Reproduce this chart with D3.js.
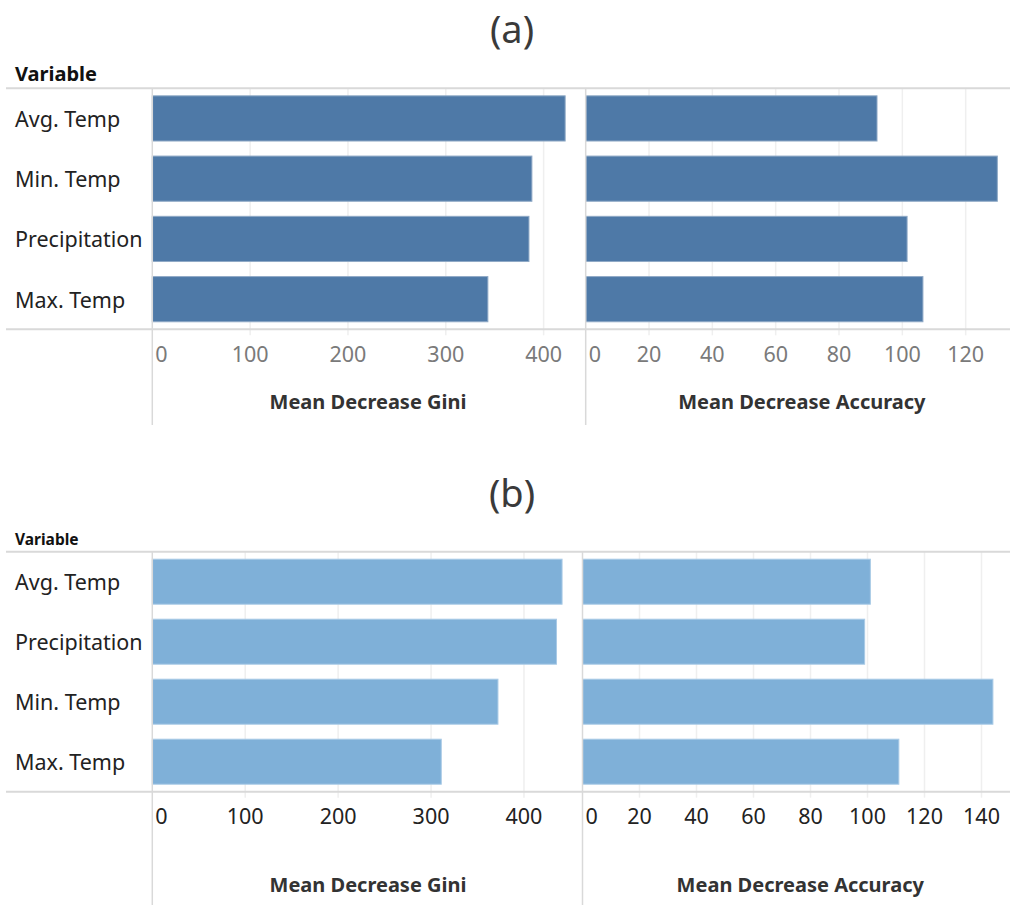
<!DOCTYPE html>
<html>
<head>
<meta charset="utf-8">
<script src="https://cdn.jsdelivr.net/npm/d3@7"></script>
<style>
  html, body { margin: 0; padding: 0; background: #fff; }
  svg { display: block; font-family: "Noto Sans", "Open Sans", sans-serif; }
</style>
</head>
<body>
<svg id="chart" width="1010" height="907"></svg>
<script>
// Variable importance from two random forest models
const categoriesA = ["Avg. Temp", "Min. Temp", "Precipitation", "Max. Temp"];
const giniA = [422, 388, 385, 343];
const accuracyA = [92, 130, 101.5, 106.5];

const categoriesB = ["Avg. Temp", "Precipitation", "Min. Temp", "Max. Temp"];
const giniB = [441, 435, 372, 311];
const accuracyB = [101, 99, 144, 111];

const giniTicksA = [0, 100, 200, 300, 400];
const accTicksA = [0, 20, 40, 60, 80, 100, 120];
const giniTicksB = [0, 100, 200, 300, 400];
const accTicksB = [0, 20, 40, 60, 80, 100, 120, 140];

const svg = d3.select("#chart");
const lineColor = "#d9d9d9";
const gridColor = "#efefef";

function drawPanel(opt) {
  const g = svg.append("g");
  const top = opt.top, bottom = opt.top + opt.rowH * opt.categories.length;

  // panel title
  g.append("text")
    .attr("x", 512).attr("y", opt.titleY)
    .attr("text-anchor", "middle")
    .attr("dominant-baseline", "central")
    .attr("font-size", 38).attr("fill", "#3a3a3a")
    .text(opt.title);

  // row header
  g.append("text")
    .attr("x", 15).attr("y", top - 7)
    .attr("font-size", opt.headerSize).attr("font-weight", "bold").attr("fill", "#111")
    .text("Variable");

  const y = d3.scaleBand().domain(opt.categories).range([top, bottom]).paddingInner(0.25).paddingOuter(0.125);
  const yRow = d3.scaleBand().domain(opt.categories).range([top, bottom]);

  const xG = d3.scaleLinear().domain([0, opt.giniMax]).range([152.3, opt.split]);
  const xA = d3.scaleLinear().domain([0, opt.accMax]).range([opt.split, 1010]);

  // gridlines with short tick extensions below the axis line
  const grid = (scale, ticks) => {
    g.append("g").selectAll("line").data(ticks.filter(t => t > 0)).join("line")
      .attr("x1", d => scale(d)).attr("x2", d => scale(d))
      .attr("y1", top).attr("y2", bottom + 6)
      .attr("stroke", gridColor).attr("stroke-width", 1.5);
  };
  grid(xG, opt.giniTicks);
  grid(xA, opt.accTicks);

  // bars
  const bars = (scale, values) => {
    g.append("g").selectAll("rect").data(opt.categories).join("rect")
      .attr("x", scale(0)).attr("y", d => y(d))
      .attr("width", (d, i) => scale(values[i]) - scale(0))
      .attr("height", y.bandwidth())
      .attr("fill", opt.color)
      .attr("stroke", opt.stroke).attr("stroke-width", 1);
  };
  bars(xG, opt.gini);
  bars(xA, opt.accuracy);

  // frame lines
  g.append("line").attr("x1", 6).attr("x2", 1010).attr("y1", top).attr("y2", top)
    .attr("stroke", lineColor).attr("stroke-width", 2);
  g.append("line").attr("x1", 6).attr("x2", 1010).attr("y1", bottom).attr("y2", bottom)
    .attr("stroke", lineColor).attr("stroke-width", 2);
  [152.3, opt.split].forEach(x => {
    g.append("line").attr("x1", x).attr("x2", x).attr("y1", top).attr("y2", opt.panelBottom)
      .attr("stroke", lineColor).attr("stroke-width", 1.5);
  });

  // row labels
  g.append("g").selectAll("text").data(opt.categories).join("text")
    .attr("x", 15).attr("y", d => yRow(d) + yRow.bandwidth() / 2)
    .attr("dominant-baseline", "central")
    .attr("font-size", 21.5).attr("fill", "#222")
    .text(d => d);

  // tick labels
  const tickLabels = (scale, ticks) => {
    g.append("g").selectAll("text").data(ticks).join("text")
      .attr("x", d => d === 0 ? scale(0) + 3 : scale(d))
      .attr("y", bottom + 24)
      .attr("text-anchor", d => d === 0 ? "start" : "middle")
      .attr("dominant-baseline", "central")
      .attr("font-size", 21.5).attr("fill", opt.tickColor)
      .text(d => d);
  };
  tickLabels(xG, opt.giniTicks);
  tickLabels(xA, opt.accTicks);

  // axis titles
  g.append("text").attr("x", 368).attr("y", opt.axisTitleY)
    .attr("text-anchor", "middle").attr("dominant-baseline", "central")
    .attr("font-size", 20).attr("font-weight", "bold").attr("fill", "#333")
    .text("Mean Decrease Gini");
  g.append("text").attr("x", (opt.split + 1010) / 2 + 4).attr("y", opt.axisTitleY)
    .attr("text-anchor", "middle").attr("dominant-baseline", "central")
    .attr("font-size", 20).attr("font-weight", "bold").attr("fill", "#333")
    .text("Mean Decrease Accuracy");
}

drawPanel({
  title: "(a)", titleY: 28,
  top: 88.3, rowH: 60.25, headerSize: 20,
  categories: categoriesA, gini: giniA, accuracy: accuracyA,
  giniMax: 443, accMax: 134, split: 585.7,
  giniTicks: giniTicksA, accTicks: accTicksA,
  color: "#4e79a7", stroke: "#8fa9c6", tickColor: "#7a7a7a",
  axisTitleY: 401, panelBottom: 425
});

drawPanel({
  title: "(b)", titleY: 492,
  top: 551.7, rowH: 60, headerSize: 15.5,
  categories: categoriesB, gini: giniB, accuracy: accuracyB,
  giniMax: 463, accMax: 150, split: 582.5,
  giniTicks: giniTicksB, accTicks: accTicksB,
  color: "#7fb0d8", stroke: "#a9cae6", tickColor: "#222",
  axisTitleY: 884, panelBottom: 905
});
</script>
</body>
</html>
